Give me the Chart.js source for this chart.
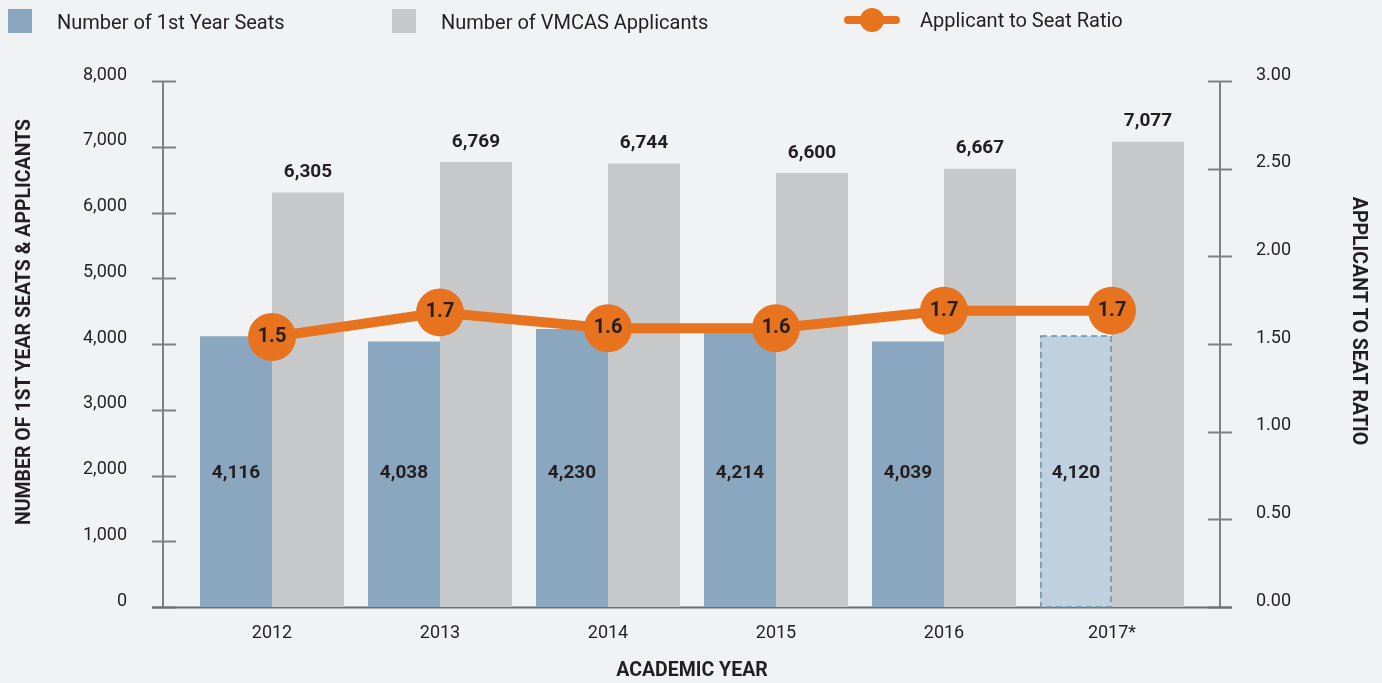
<!DOCTYPE html>
<html>
<head>
<meta charset="utf-8">
<script src="https://cdn.jsdelivr.net/npm/chart.js@4.4.1/dist/chart.umd.min.js"></script>
<style>
  html, body { margin: 0; padding: 0; background: #f1f2f4; }
  #wrap { position: relative; width: 1382px; height: 683px; font-family: Roboto, "Noto Sans", sans-serif; color: #231f20; }
  #chartBar { position: absolute; left: 0; top: 0; }
  .sw { position: absolute; top: 9px; width: 24px; height: 24px; }
  .lt { position: absolute; top: 9px; font-size: 20px; line-height: 26px; white-space: nowrap; }
  .ln { position: absolute; left: 844px; top: 16px; width: 56px; height: 8px; border-radius: 4px; background: #e8731f; }
  .dot { position: absolute; left: 860px; top: 8px; width: 24px; height: 24px; border-radius: 12px; background: #e8731f; }
</style>
</head>
<body>
<div id="wrap">
  <canvas id="chartBar" width="1382" height="683"></canvas>
  <div class="sw" style="left:8px;background:#8ba7bf"></div>
  <div class="lt" style="left:57px">Number of 1st Year Seats</div>
  <div class="sw" style="left:392px;background:#c7c8ca"></div>
  <div class="lt" style="left:441px">Number of VMCAS Applicants</div>
  <div class="ln"></div><div class="dot"></div>
  <div class="lt" style="left:920px;top:7px">Applicant to Seat Ratio</div>
</div>
<script>
var years = ["2012", "2013", "2014", "2015", "2016", "2017*"];
var seats = [4116, 4038, 4230, 4214, 4039, 4120];
var applicants = [6305, 6769, 6744, 6600, 6667, 7077];
var ratio = [1.54, 1.68, 1.59, 1.59, 1.69, 1.69];

var seatColors = ["#8ba7bf", "#8ba7bf", "#8ba7bf", "#8ba7bf", "#8ba7bf", "#bfd0de"];
var textColor = "#231f20";
var orange = "#e8731f";

function fmt(n) {
    return n.toString().replace(/\B(?=(\d{3})+(?!\d))/g, ",");
}

// axis lines, tick marks and titles drawn a bit outside the plot area
const axesPlugin = {
    id: "axesPlugin",
    beforeDatasetsDraw(chart) {
        var ctx = chart.ctx;
        var area = chart.chartArea;
        var y = chart.scales.y, y2 = chart.scales.y2;
        var lx = area.left - 25, rx = area.right + 24;
        ctx.save();
        ctx.strokeStyle = "#808080";
        ctx.lineWidth = 2;
        ctx.beginPath();
        ctx.moveTo(lx, y.getPixelForValue(8000));
        ctx.lineTo(lx, area.bottom);
        ctx.moveTo(rx, y2.getPixelForValue(3));
        ctx.lineTo(rx, area.bottom);
        y.ticks.forEach(function (t) {
            var py = Math.round(y.getPixelForValue(t.value)) + 0.5;
            ctx.moveTo(lx - 11, py);
            ctx.lineTo(lx + 13, py);
        });
        y2.ticks.forEach(function (t) {
            var py = Math.round(y2.getPixelForValue(t.value)) + 0.5;
            ctx.moveTo(rx - 12, py);
            ctx.lineTo(rx + 12, py);
        });
        ctx.stroke();
        ctx.strokeStyle = "#6d6e71";
        ctx.beginPath();
        ctx.moveTo(lx - 11, area.bottom + 0.5);
        ctx.lineTo(rx + 12, area.bottom + 0.5);
        ctx.stroke();

        ctx.fillStyle = textColor;
        ctx.font = "bold 19.5px Roboto";
        ctx.textAlign = "center";
        ctx.textBaseline = "middle";
        ctx.translate(25, 322);
        ctx.rotate(-Math.PI / 2);
        ctx.fillText("NUMBER OF 1ST YEAR SEATS & APPLICANTS", 0, 0);
        ctx.setTransform(1, 0, 0, 1, 0, 0);
        ctx.translate(1358, 321);
        ctx.rotate(Math.PI / 2);
        ctx.fillText("APPLICANT TO SEAT RATIO", 0, 0);
        ctx.restore();
    },
    afterDatasetsDraw(chart) {
        var ctx = chart.ctx;
        var y = chart.scales.y;
        ctx.save();
        // dashed outline on the projected 2017 seats bar
        var b = chart.getDatasetMeta(0).data[5];
        ctx.strokeStyle = "#6a8ea9";
        ctx.lineWidth = 1.5;
        ctx.setLineDash([6, 4]);
        ctx.strokeRect(b.x - b.width / 2 + 1, b.y, b.width - 2, b.base - b.y);
        ctx.setLineDash([]);

        ctx.fillStyle = textColor;
        ctx.font = "bold 19px Roboto";
        ctx.textAlign = "center";
        ctx.textBaseline = "middle";
        chart.getDatasetMeta(0).data.forEach(function (bar, i) {
            ctx.fillText(fmt(seats[i]), bar.x, y.getPixelForValue(2040));
        });
        chart.getDatasetMeta(1).data.forEach(function (bar, i) {
            ctx.fillText(fmt(applicants[i]), bar.x, bar.y - 20);
        });
        ctx.font = "bold 20px Roboto";
        chart.getDatasetMeta(2).data.forEach(function (pt, i) {
            ctx.fillText(ratio[i].toFixed(1), pt.x, pt.y);
        });
        ctx.restore();
    }
};

const dataBar = {
    labels: years,
    datasets: [
        {
            type: "bar",
            label: "Number of 1st Year Seats",
            data: seats,
            backgroundColor: seatColors,
            yAxisID: "y",
            order: 2,
        },
        {
            type: "bar",
            label: "Number of VMCAS Applicants",
            data: applicants,
            backgroundColor: "#c7c8ca",
            yAxisID: "y",
            order: 2,
        },
        {
            type: "line",
            label: "Applicant to Seat Ratio",
            data: ratio,
            borderColor: orange,
            borderWidth: 10,
            backgroundColor: orange,
            pointRadius: 24,
            pointBorderWidth: 0,
            pointBackgroundColor: orange,
            yAxisID: "y2",
            order: 0,
        },
    ],
};

const configBar = {
    type: "bar",
    data: dataBar,
    options: {
        responsive: false,
        animation: false,
        categoryPercentage: 144 / 168,
        barPercentage: 1,
        layout: { padding: { top: 81, bottom: 0, left: 0, right: 0 } },
        plugins: {
            legend: false,
            tooltip: false,
        },
        scales: {
            x: {
                grid: { display: false },
                border: { display: false },
                ticks: { color: textColor, font: { size: 18, family: "Roboto" }, padding: 8 },
                title: {
                    display: true,
                    text: "ACADEMIC YEAR",
                    color: textColor,
                    font: { size: 19.5, weight: "bold", family: "Roboto" },
                    padding: { top: 0, bottom: 0 },
                },
                afterFit: function (s) { s.height = 76; },
            },
            y: {
                position: "left",
                min: 0,
                max: 8000,
                grid: { display: false, drawTicks: false },
                border: { display: false },
                ticks: {
                    stepSize: 1000,
                    padding: 61,
                    labelOffset: -6,
                    color: textColor,
                    font: { size: 18, family: "Roboto" },
                    callback: function (v) { return fmt(v); },
                },
                afterFit: function (s) { s.width = 188; },
            },
            y2: {
                position: "right",
                min: 0,
                max: 3,
                grid: { display: false, drawTicks: false },
                border: { display: false },
                ticks: {
                    stepSize: 0.5,
                    padding: 60,
                    labelOffset: -6,
                    color: textColor,
                    font: { size: 18, family: "Roboto" },
                    callback: function (v) { return v.toFixed(2); },
                },
                afterFit: function (s) { s.width = 186; },
            },
        },
    },
    plugins: [axesPlugin],
};

var chartBar = new Chart(document.getElementById("chartBar"), configBar);
</script>
</body>
</html>
